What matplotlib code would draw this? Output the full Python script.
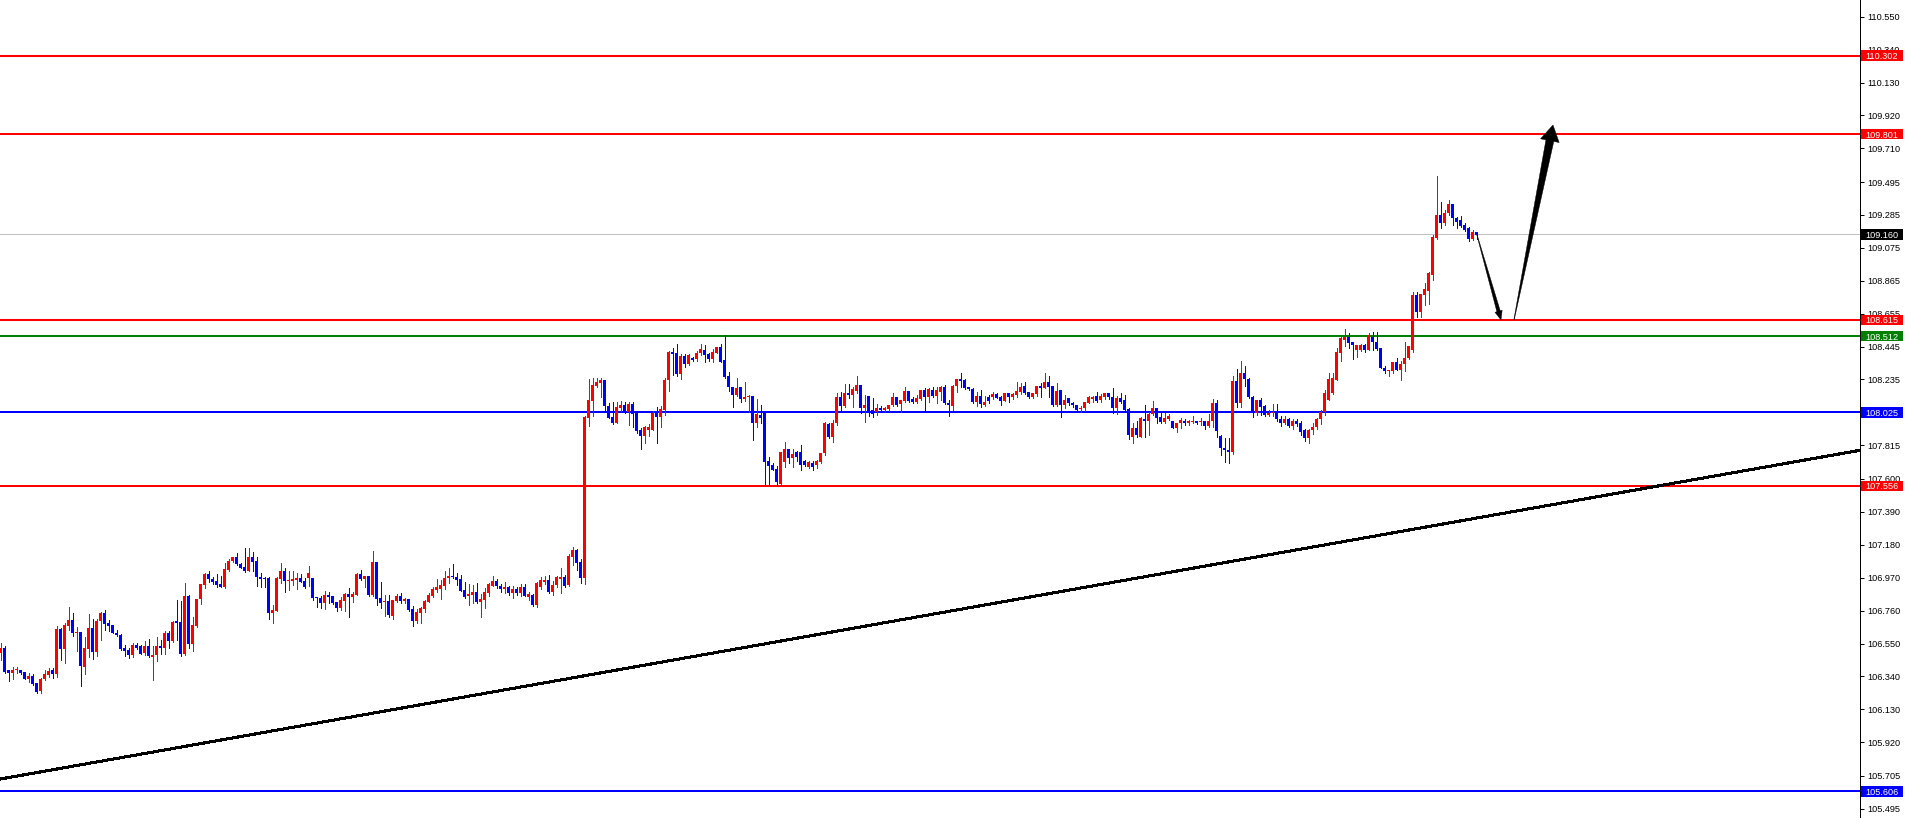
import numpy as np
import matplotlib
matplotlib.use("Agg")
import matplotlib.pyplot as plt
from matplotlib.patches import Rectangle, Polygon
from matplotlib.transforms import blended_transform_factory

# ---- candle data (one bar per entry, oldest first) ----
opens = [
    106.487, 106.524, 106.381, 106.364, 106.379, 106.381, 106.368, 106.326, 106.343, 106.296,
    106.249, 106.321, 106.349, 106.381, 106.356, 106.643, 106.513, 106.664, 106.700, 106.615,
    106.624, 106.402, 106.517, 106.649, 106.498, 106.694, 106.747, 106.683, 106.668, 106.619,
    106.604, 106.521, 106.509, 106.479, 106.541, 106.534, 106.487, 106.534, 106.466, 106.477,
    106.534, 106.521, 106.619, 106.568, 106.694, 106.687, 106.483, 106.855, 106.547, 106.662,
    106.832, 106.923, 106.994, 106.962, 106.949, 106.930, 106.913, 107.019, 107.077, 107.100,
    107.058, 107.040, 107.015, 107.100, 107.077, 106.973, 106.968, 106.968, 106.747, 106.760,
    106.962, 107.013, 106.952, 106.952, 106.956, 106.971, 106.952, 106.966, 106.968, 106.847,
    106.841, 106.811, 106.860, 106.854, 106.815, 106.777, 106.824, 106.866, 106.849, 106.862,
    106.994, 106.962, 106.981, 106.860, 107.071, 106.841, 106.813, 106.824, 106.728, 106.820,
    106.854, 106.820, 106.832, 106.771, 106.694, 106.747, 106.771, 106.818, 106.854, 106.892,
    106.898, 106.917, 106.966, 106.981, 106.977, 106.962, 106.892, 106.854, 106.860, 106.879,
    106.815, 106.828, 106.875, 106.920, 106.947, 106.920, 106.900, 106.910, 106.870, 106.900,
    106.870, 106.910, 106.849, 106.860, 106.794, 106.913, 106.945, 106.956, 106.881, 106.924,
    106.962, 106.977, 106.924, 107.104, 107.147, 107.070, 106.970, 107.992, 108.100, 108.194,
    108.215, 108.232, 108.066, 107.994, 107.960, 108.055, 108.072, 108.028, 108.079, 108.019,
    107.913, 107.875, 107.913, 107.913, 108.019, 107.994, 108.040, 108.232, 108.411, 108.402,
    108.270, 108.385, 108.332, 108.372, 108.364, 108.402, 108.423, 108.398, 108.368, 108.406,
    108.440, 108.360, 108.257, 108.185, 108.134, 108.189, 108.111, 108.121, 108.132, 107.960,
    108.011, 108.034, 107.715, 107.690, 107.664, 107.568, 107.711, 107.790, 107.736, 107.773,
    107.775, 107.715, 107.679, 107.704, 107.690, 107.711, 107.764, 107.951, 107.870, 107.955,
    108.125, 108.068, 108.151, 108.136, 108.164, 108.200, 108.051, 108.130, 108.040, 108.026,
    108.055, 108.040, 108.047, 108.072, 108.125, 108.077, 108.098, 108.164, 108.108, 108.094,
    108.111, 108.168, 108.125, 108.168, 108.132, 108.157, 108.189, 108.087, 108.068, 108.194,
    108.238, 108.232, 108.185, 108.172, 108.094, 108.130, 108.072, 108.125, 108.125, 108.140,
    108.125, 108.098, 108.151, 108.121, 108.136, 108.155, 108.194, 108.157, 108.125, 108.142,
    108.194, 108.183, 108.219, 108.194, 108.072, 108.168, 108.072, 108.115, 108.087, 108.072,
    108.045, 108.051, 108.087, 108.108, 108.130, 108.104, 108.121, 108.147, 108.125, 108.055,
    108.115, 108.104, 108.045, 107.870, 107.923, 107.870, 107.983, 107.970, 108.015, 108.051,
    107.998, 107.966, 107.981, 107.970, 107.923, 107.955, 107.972, 107.960, 107.964, 107.970,
    107.964, 107.970, 107.938, 107.970, 108.087, 107.874, 107.800, 107.786, 107.775, 108.226,
    108.083, 108.275, 108.241, 108.122, 108.020, 108.105, 108.066, 108.009, 108.020, 108.030,
    107.980, 107.960, 107.980, 107.940, 107.970, 107.960, 107.910, 107.860, 107.910, 107.930,
    107.980, 108.030, 108.105, 108.147, 108.232, 108.402, 108.488, 108.509, 108.477, 108.420,
    108.420, 108.454, 108.424, 108.509, 108.477, 108.434, 108.307, 108.286, 108.292, 108.345,
    108.296, 108.334, 108.371, 108.424, 108.775, 108.668, 108.775, 108.802, 108.902, 109.136,
    109.285, 109.232, 109.296, 109.355, 109.264, 109.253, 109.221, 109.200, 109.130, 109.177,
]
highs = [
    106.551, 106.534, 106.381, 106.398, 106.398, 106.381, 106.368, 106.360, 106.353, 106.296,
    106.332, 106.381, 106.394, 106.394, 106.662, 106.651, 106.679, 106.783, 106.747, 106.658,
    106.624, 106.594, 106.738, 106.704, 106.707, 106.753, 106.764, 106.700, 106.668, 106.636,
    106.611, 106.541, 106.519, 106.551, 106.555, 106.541, 106.566, 106.579, 106.534, 106.590,
    106.572, 106.630, 106.630, 106.694, 106.828, 106.824, 106.938, 106.862, 106.717, 106.834,
    106.930, 106.998, 107.015, 106.972, 106.994, 106.983, 107.066, 107.090, 107.105, 107.128,
    107.062, 107.160, 107.158, 107.132, 107.100, 106.998, 106.977, 106.977, 106.796, 106.977,
    107.064, 107.032, 107.013, 107.011, 107.003, 106.994, 106.971, 107.045, 106.968, 106.847,
    106.854, 106.886, 106.881, 106.854, 106.815, 106.849, 106.875, 106.905, 106.881, 107.003,
    107.020, 106.981, 106.981, 107.141, 107.071, 106.943, 106.860, 106.860, 106.828, 106.866,
    106.875, 106.843, 106.832, 106.790, 106.771, 106.786, 106.828, 106.871, 106.913, 106.962,
    106.956, 107.015, 107.032, 107.058, 106.998, 106.988, 106.945, 106.930, 106.926, 106.934,
    106.866, 106.907, 106.934, 106.981, 106.964, 106.930, 106.940, 106.920, 106.920, 106.910,
    106.930, 106.930, 106.881, 106.866, 106.940, 106.975, 106.980, 106.990, 106.950, 106.980,
    107.030, 106.990, 107.120, 107.168, 107.150, 107.090, 108.000, 108.236, 108.243, 108.243,
    108.243, 108.232, 108.083, 108.094, 108.094, 108.098, 108.094, 108.094, 108.094, 108.023,
    107.924, 107.938, 107.951, 108.034, 108.062, 108.066, 108.243, 108.419, 108.434, 108.462,
    108.398, 108.398, 108.398, 108.381, 108.419, 108.462, 108.455, 108.406, 108.432, 108.445,
    108.462, 108.519, 108.285, 108.185, 108.243, 108.189, 108.217, 108.136, 108.132, 108.108,
    108.072, 108.034, 107.743, 107.700, 107.683, 107.775, 107.834, 107.790, 107.790, 107.781,
    107.815, 107.720, 107.717, 107.717, 107.721, 107.768, 107.966, 107.960, 107.977, 108.147,
    108.157, 108.204, 108.206, 108.189, 108.257, 108.200, 108.136, 108.130, 108.115, 108.077,
    108.066, 108.062, 108.072, 108.147, 108.125, 108.104, 108.189, 108.164, 108.121, 108.136,
    108.168, 108.179, 108.179, 108.185, 108.189, 108.194, 108.200, 108.104, 108.200, 108.238,
    108.279, 108.236, 108.189, 108.179, 108.157, 108.168, 108.130, 108.136, 108.153, 108.147,
    108.130, 108.151, 108.151, 108.151, 108.221, 108.215, 108.221, 108.157, 108.151, 108.194,
    108.215, 108.279, 108.257, 108.194, 108.211, 108.168, 108.136, 108.115, 108.094, 108.072,
    108.066, 108.094, 108.130, 108.130, 108.157, 108.142, 108.151, 108.151, 108.179, 108.130,
    108.147, 108.136, 108.051, 107.960, 107.972, 107.994, 108.072, 108.030, 108.098, 108.051,
    108.019, 108.019, 108.015, 107.970, 107.960, 107.987, 107.981, 107.977, 108.002, 107.970,
    107.987, 107.970, 108.015, 108.108, 108.104, 107.881, 107.860, 107.860, 108.254, 108.300,
    108.354, 108.324, 108.245, 108.130, 108.105, 108.115, 108.070, 108.040, 108.080, 108.080,
    108.000, 108.000, 107.990, 107.980, 107.980, 107.970, 107.920, 107.920, 107.960, 107.990,
    108.040, 108.168, 108.279, 108.279, 108.434, 108.519, 108.556, 108.534, 108.477, 108.456,
    108.460, 108.460, 108.530, 108.541, 108.541, 108.434, 108.318, 108.296, 108.349, 108.371,
    108.356, 108.477, 108.449, 108.790, 108.790, 108.781, 108.853, 108.919, 109.157, 109.534,
    109.370, 109.317, 109.381, 109.355, 109.270, 109.275, 109.232, 109.211, 109.189, 109.177,
]
lows = [
    106.445, 106.360, 106.313, 106.324, 106.360, 106.356, 106.321, 106.307, 106.285, 106.236,
    106.236, 106.317, 106.338, 106.330, 106.338, 106.445, 106.428, 106.636, 106.598, 106.504,
    106.279, 106.356, 106.462, 106.453, 106.470, 106.573, 106.636, 106.630, 106.615, 106.598,
    106.509, 106.470, 106.458, 106.466, 106.513, 106.483, 106.477, 106.466, 106.317, 106.441,
    106.483, 106.483, 106.521, 106.562, 106.572, 106.470, 106.477, 106.519, 106.504, 106.653,
    106.802, 106.904, 106.943, 106.930, 106.913, 106.913, 106.904, 107.015, 107.070, 107.050,
    107.030, 107.004, 107.015, 107.015, 106.920, 106.909, 106.913, 106.707, 106.684, 106.760,
    106.934, 106.881, 106.892, 106.924, 106.900, 106.945, 106.903, 106.917, 106.828, 106.786,
    106.779, 106.771, 106.807, 106.803, 106.758, 106.764, 106.758, 106.720, 106.818, 106.858,
    106.956, 106.913, 106.854, 106.854, 106.796, 106.779, 106.726, 106.722, 106.707, 106.815,
    106.807, 106.807, 106.760, 106.662, 106.684, 106.679, 106.752, 106.813, 106.849, 106.877,
    106.835, 106.900, 106.934, 106.966, 106.926, 106.888, 106.839, 106.796, 106.807, 106.807,
    106.720, 106.775, 106.854, 106.917, 106.903, 106.880, 106.870, 106.860, 106.840, 106.860,
    106.850, 106.850, 106.828, 106.790, 106.780, 106.900, 106.930, 106.870, 106.860, 106.910,
    106.870, 106.910, 106.920, 107.050, 107.020, 106.934, 106.930, 107.938, 108.000, 108.185,
    108.126, 108.030, 107.992, 107.951, 107.955, 108.034, 108.019, 107.947, 107.934, 107.892,
    107.789, 107.832, 107.875, 107.913, 107.828, 107.934, 108.011, 108.162, 108.264, 108.260,
    108.236, 108.313, 108.328, 108.355, 108.355, 108.391, 108.349, 108.355, 108.349, 108.402,
    108.349, 108.243, 108.164, 108.062, 108.130, 108.094, 108.100, 108.025, 107.849, 107.934,
    107.960, 107.562, 107.562, 107.655, 107.562, 107.562, 107.679, 107.700, 107.679, 107.717,
    107.658, 107.680, 107.668, 107.658, 107.668, 107.700, 107.753, 107.860, 107.838, 107.945,
    108.040, 108.062, 108.115, 108.062, 108.147, 108.023, 107.966, 108.002, 107.998, 108.009,
    108.030, 108.030, 108.036, 108.068, 108.068, 108.030, 108.094, 108.094, 108.087, 108.083,
    108.104, 108.034, 108.094, 108.125, 108.083, 108.104, 108.079, 108.002, 108.040, 108.157,
    108.185, 108.172, 108.168, 108.083, 108.066, 108.062, 108.066, 108.083, 108.108, 108.115,
    108.072, 108.098, 108.094, 108.108, 108.125, 108.142, 108.142, 108.115, 108.117, 108.130,
    108.125, 108.179, 108.125, 108.068, 108.068, 107.998, 108.051, 108.072, 108.062, 108.040,
    108.030, 108.036, 108.083, 108.094, 108.094, 108.094, 108.113, 108.113, 108.023, 108.015,
    108.087, 108.030, 107.855, 107.832, 107.870, 107.870, 107.870, 107.881, 108.009, 107.955,
    107.960, 107.960, 107.977, 107.923, 107.902, 107.923, 107.945, 107.943, 107.955, 107.951,
    107.945, 107.917, 107.930, 107.930, 107.870, 107.750, 107.710, 107.705, 107.760, 108.062,
    108.062, 108.194, 108.115, 107.994, 108.009, 108.009, 108.002, 108.000, 108.000, 107.970,
    107.940, 107.950, 107.930, 107.920, 107.940, 107.880, 107.840, 107.830, 107.890, 107.920,
    107.950, 108.010, 108.105, 108.140, 108.232, 108.350, 108.451, 108.434, 108.364, 108.381,
    108.417, 108.410, 108.420, 108.420, 108.420, 108.307, 108.275, 108.254, 108.279, 108.296,
    108.232, 108.286, 108.364, 108.413, 108.636, 108.636, 108.711, 108.715, 108.870, 109.130,
    109.204, 109.221, 109.285, 109.221, 109.200, 109.211, 109.185, 109.119, 109.126, 109.130,
]
closes = [
    106.524, 106.370, 106.364, 106.381, 106.383, 106.364, 106.326, 106.343, 106.290, 106.241,
    106.326, 106.356, 106.373, 106.356, 106.643, 106.513, 106.668, 106.700, 106.615, 106.626,
    106.407, 106.521, 106.649, 106.498, 106.696, 106.747, 106.677, 106.662, 106.619, 106.602,
    106.515, 106.504, 106.479, 106.541, 106.521, 106.483, 106.534, 106.470, 106.477, 106.534,
    106.521, 106.619, 106.566, 106.687, 106.683, 106.483, 106.853, 106.547, 106.668, 106.834,
    106.930, 106.994, 106.962, 106.940, 106.923, 106.913, 107.026, 107.077, 107.100, 107.058,
    107.034, 107.013, 107.100, 107.073, 106.973, 106.962, 106.962, 106.747, 106.764, 106.968,
    107.013, 106.952, 106.956, 106.962, 106.971, 106.945, 106.909, 107.000, 106.843, 106.841,
    106.807, 106.860, 106.849, 106.811, 106.779, 106.828, 106.866, 106.849, 106.866, 106.996,
    106.964, 106.981, 106.860, 107.071, 106.837, 106.811, 106.818, 106.732, 106.828, 106.854,
    106.822, 106.832, 106.764, 106.694, 106.752, 106.777, 106.824, 106.860, 106.898, 106.913,
    106.922, 106.971, 106.981, 106.977, 106.956, 106.888, 106.849, 106.866, 106.879, 106.815,
    106.832, 106.879, 106.930, 106.947, 106.920, 106.900, 106.910, 106.870, 106.900, 106.870,
    106.910, 106.855, 106.864, 106.794, 106.934, 106.956, 106.956, 106.881, 106.924, 106.973,
    106.977, 106.917, 107.109, 107.147, 107.062, 106.970, 107.994, 108.104, 108.200, 108.221,
    108.232, 108.066, 107.992, 107.960, 108.058, 108.072, 108.024, 108.079, 108.013, 107.909,
    107.875, 107.930, 107.934, 108.019, 107.994, 108.045, 108.232, 108.411, 108.398, 108.268,
    108.385, 108.332, 108.394, 108.360, 108.406, 108.428, 108.391, 108.364, 108.411, 108.440,
    108.349, 108.253, 108.189, 108.134, 108.181, 108.111, 108.125, 108.132, 107.955, 108.015,
    107.990, 107.711, 107.683, 107.660, 107.583, 107.775, 107.790, 107.736, 107.760, 107.743,
    107.690, 107.690, 107.711, 107.675, 107.715, 107.768, 107.960, 107.870, 107.955, 108.125,
    108.068, 108.151, 108.136, 108.172, 108.200, 108.051, 108.070, 108.019, 108.015, 108.051,
    108.040, 108.055, 108.072, 108.125, 108.072, 108.104, 108.164, 108.098, 108.094, 108.115,
    108.168, 108.125, 108.172, 108.132, 108.168, 108.189, 108.083, 108.072, 108.194, 108.238,
    108.228, 108.179, 108.172, 108.094, 108.130, 108.077, 108.094, 108.098, 108.140, 108.119,
    108.098, 108.147, 108.121, 108.142, 108.164, 108.189, 108.151, 108.125, 108.147, 108.194,
    108.183, 108.221, 108.189, 108.072, 108.164, 108.072, 108.104, 108.083, 108.072, 108.040,
    108.055, 108.094, 108.121, 108.121, 108.100, 108.130, 108.147, 108.121, 108.051, 108.119,
    108.094, 108.040, 107.881, 107.923, 107.881, 107.987, 107.970, 108.015, 108.051, 107.991,
    107.966, 107.987, 108.002, 107.923, 107.960, 107.977, 107.955, 107.972, 107.972, 107.960,
    107.970, 107.938, 107.970, 108.087, 107.909, 107.800, 107.786, 107.775, 108.226, 108.083,
    108.275, 108.236, 108.122, 108.020, 108.105, 108.058, 108.009, 108.020, 108.030, 107.980,
    107.960, 107.980, 107.940, 107.970, 107.950, 107.900, 107.860, 107.910, 107.930, 107.980,
    108.030, 108.147, 108.237, 108.243, 108.413, 108.498, 108.505, 108.467, 108.456, 108.456,
    108.454, 108.420, 108.519, 108.471, 108.428, 108.307, 108.286, 108.296, 108.345, 108.296,
    108.334, 108.371, 108.449, 108.775, 108.668, 108.779, 108.811, 108.913, 109.147, 109.285,
    109.236, 109.296, 109.355, 109.264, 109.243, 109.215, 109.189, 109.130, 109.179, 109.160,
]

# horizontal levels drawn on the chart, with their colours
level_prices = [110.302, 109.801, 108.615, 108.512, 108.025, 107.556, 105.606]
level_colors = ['#FF0000', '#FF0000', '#FF0000', '#008000', '#0000FF', '#FF0000', '#0000FF']
bid_price = 109.160

# price scale labels on the right
tick_prices = [110.550, 110.340, 110.130, 109.920, 109.710, 109.495, 109.285, 109.075,
               108.865, 108.655, 108.445, 108.235, 108.025, 107.815, 107.600, 107.390,
               107.180, 106.970, 106.760, 106.550, 106.340, 106.130, 105.920, 105.705, 105.495]

# trendline anchors (bar index, price) and the two projection arrows
trend_points = [(0, 105.686), (369, 107.351)]
down_arrow = [(369, 109.157), (375, 108.615)]
up_arrow = [(378.25, 108.615), (388, 109.859)]

# ---- layout ----
W, H = 1906, 818
PLOT_W = 1860
BAR_PX = 4
Y_MIN, Y_MAX = 105.4364, 110.6566
FONT = 'Liberation Sans'
FS = 6.6
PX = 0.72  # one pixel in points at 100 dpi

fig = plt.figure(figsize=(W / 100, H / 100), dpi=100)
fig.patch.set_facecolor('white')
ax = fig.add_axes([0, 0, PLOT_W / W, 1])
ax.set_xlim(-0.25, PLOT_W / BAR_PX - 0.25)
ax.set_ylim(Y_MIN, Y_MAX)
ax.set_facecolor('white')

for side in ('top', 'left', 'bottom'):
    ax.spines[side].set_visible(False)
ax.spines['right'].set_linewidth(PX)
ax.spines['right'].set_color('black')

ax.set_xticks([])
ax.yaxis.tick_right()
ax.set_yticks(tick_prices)
ax.set_yticklabels([f'{p:.3f}' for p in tick_prices], fontfamily=FONT)
ax.tick_params(axis='y', length=3, width=PX, pad=2.2, labelsize=FS, colors='black')

px_price = (Y_MAX - Y_MIN) / H

# ---- candles ----
o = np.array(opens)
h = np.array(highs)
l = np.array(lows)
c = np.array(closes)
x = np.arange(len(c))
colors = np.where(c >= o, '#FF0000', '#0000FF')

ax.vlines(x, l, h, colors=colors, linewidth=PX, antialiased=False, zorder=3)
body_bottom = np.minimum(o, c)
body_height = np.maximum(np.abs(c - o), px_price)
ax.bar(x, body_height, bottom=body_bottom, width=0.75, color=colors,
       linewidth=0, antialiased=False, zorder=3)

# ---- levels (2 px bands) ----
ax.axhspan(bid_price - 0.5 * px_price, bid_price + 0.5 * px_price,
           color='#C0C0C0', linewidth=0, antialiased=False, zorder=2)
for price, col in zip(level_prices, level_colors):
    ax.axhspan(price - px_price, price + px_price, color=col, linewidth=0,
               antialiased=False, zorder=2)

ax.axline(trend_points[0], trend_points[1], color='black', linewidth=2 * PX,
          antialiased=False, zorder=2)

# ---- tapered arrows ----
def tapered_arrow(start, end, tail_w, shaft_w, head_w, head_len):
    p0 = ax.transData.transform(start)
    p1 = ax.transData.transform(end)
    d = p1 - p0
    u = d / np.hypot(d[0], d[1])
    n = np.array([-u[1], u[0]])
    s = p1 - u * head_len
    pts = [p0 + n * tail_w / 2, s + n * shaft_w / 2, s + n * head_w / 2, p1,
           s - n * head_w / 2, s - n * shaft_w / 2, p0 - n * tail_w / 2]
    poly = Polygon(pts, closed=True, transform=None, facecolor='black',
                   edgecolor='black', linewidth=0.3, zorder=6)
    ax.add_patch(poly)

tapered_arrow(down_arrow[0], down_arrow[1], 0.4, 3.5, 7.5, 9)
tapered_arrow(up_arrow[0], up_arrow[1], 0.4, 8, 19, 16)

# ---- price labels on the scale ----
blend = blended_transform_factory(ax.transAxes, ax.transData)
box_x0 = 1860.7 / PLOT_W
box_w = 42.6 / PLOT_W
box_h = 10.5 * px_price

label_prices = level_prices + [bid_price]
label_colors = level_colors + ['#000000']
for price, col in zip(label_prices, label_colors):
    ax.add_patch(Rectangle((box_x0, price - box_h / 2), box_w, box_h, transform=blend,
                           facecolor=col, edgecolor='none', clip_on=False, zorder=7))
    ax.text(box_x0 + box_w / 2, price, f'{price:.3f}', transform=blend, ha='center',
            va='center_baseline', color='white', fontsize=FS, fontfamily=FONT,
            clip_on=False, zorder=8)

fig.savefig('out.png', dpi=100, facecolor='white')
